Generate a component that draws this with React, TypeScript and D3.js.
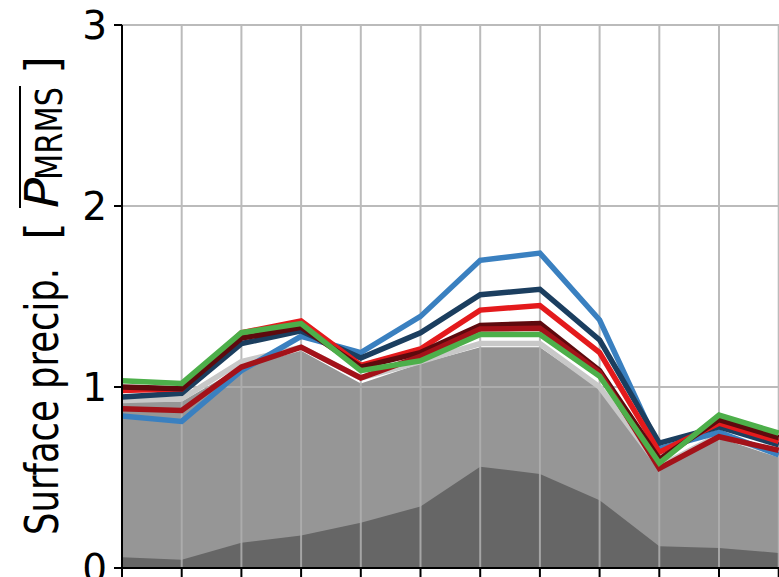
import React from "react";
import * as d3 from "d3";

const W = 779;
const H = 577;

const xIndex = [0, 1, 2, 3, 4, 5, 6, 7, 8, 9, 10, 11];
const yTicks = [0, 1, 2, 3];

const darkArea = [0.06, 0.045, 0.14, 0.18, 0.25, 0.34, 0.56, 0.52, 0.375, 0.12, 0.11, 0.083];
const midArea = [0.92, 0.92, 1.11, 1.2, 1.02, 1.13, 1.22, 1.22, 0.99, 0.54, 0.72, 0.61];

const lightGray = [0.925, 0.935, 1.14, 1.22, 1.05, 1.14, 1.24, 1.24, 1.0, 0.56, 0.735, 0.63];
const blue = [0.84, 0.81, 1.09, 1.28, 1.19, 1.39, 1.7, 1.74, 1.37, 0.66, 0.75, 0.625];
const navy = [0.945, 0.965, 1.24, 1.31, 1.16, 1.3, 1.51, 1.54, 1.26, 0.69, 0.78, 0.68];
const red = [0.98, 0.99, 1.3, 1.365, 1.12, 1.21, 1.425, 1.45, 1.19, 0.64, 0.8, 0.7];
const darkRed = [0.88, 0.87, 1.11, 1.22, 1.05, 1.17, 1.32, 1.325, 1.08, 0.55, 0.725, 0.65];
const maroon = [1.0, 0.99, 1.27, 1.33, 1.11, 1.19, 1.34, 1.35, 1.09, 0.6, 0.82, 0.72];
const green = [1.035, 1.02, 1.3, 1.35, 1.09, 1.145, 1.29, 1.29, 1.06, 0.58, 0.845, 0.745];

const seriesOrder = [
  { name: "lightgray", values: lightGray, color: "#c8c8c8" },
  { name: "blue", values: blue, color: "#3a80c0" },
  { name: "navy", values: navy, color: "#1b3e5f" },
  { name: "red", values: red, color: "#e41a1c" },
  { name: "maroon", values: maroon, color: "#5e0a0e" },
  { name: "darkred", values: darkRed, color: "#a31219" },
  { name: "green", values: green, color: "#4daf4a" },
];

export default function App() {
  const x = d3.scaleLinear().domain([0, 11]).range([122, 778.7]);
  const y = d3.scaleLinear().domain([0, 3]).range([568, 25]);

  const area = (vals: number[]) =>
    d3
      .area<number>()
      .x((_, i) => x(xIndex[i]))
      .y0(y(0))
      .y1((d) => y(d))(vals) || "";
  const line = (vals: number[]) =>
    d3
      .line<number>()
      .x((_, i) => x(xIndex[i]))
      .y((d) => y(d))(vals) || "";

  const font = "'DejaVu Sans', sans-serif";

  return (
    <div style={{ position: "absolute", left: 0, top: 0 }}>
      <svg width={W} height={H} style={{ display: "block" }}>
        <rect x={0} y={0} width={W} height={H} fill="#ffffff" />
        <path d={area(midArea)} fill="#969696" />
        <path d={area(darkArea)} fill="#666666" />
        {/* grid */}
        <g stroke="#b0b0b0" strokeWidth={2} opacity={0.85}>
          {xIndex.map((i) => (
            <line key={"gx" + i} x1={x(i)} x2={x(i)} y1={y(0)} y2={y(3)} />
          ))}
          {yTicks.slice(1).map((t) => (
            <line key={"gy" + t} x1={x(0)} x2={W} y1={y(t)} y2={y(t)} />
          ))}
        </g>
        {seriesOrder.map((s) => (
          <path
            key={s.name}
            d={line(s.values)}
            fill="none"
            stroke={s.color}
            strokeWidth={5.5}
            strokeLinejoin="miter"
          />
        ))}
        {/* axes */}
        <line x1={x(0)} x2={x(0)} y1={y(3)} y2={y(0) + 1} stroke="#000" strokeWidth={2} />
        <line x1={x(0) - 1} x2={W} y1={y(0)} y2={y(0)} stroke="#000" strokeWidth={2} />
        {yTicks.map((t) => (
          <g key={"yt" + t}>
            <line x1={x(0) - 8} x2={x(0)} y1={y(t)} y2={y(t)} stroke="#000" strokeWidth={2} />
            <text
              x={107}
              y={y(t) + 14}
              textAnchor="end"
              fontFamily={font}
              fontSize={39}
              fill="#000"
            >
              {t}
            </text>
          </g>
        ))}
        {xIndex.map((i) => (
          <line key={"xt" + i} x1={x(i)} x2={x(i)} y1={y(0)} y2={y(0) + 10} stroke="#000" strokeWidth={2} />
        ))}
        {/* y label */}
        <g transform="translate(58,568) rotate(-90)" fontFamily={font} fill="#000">
          <text x={33} y={0} fontSize={46} textLength={267} lengthAdjust="spacingAndGlyphs">
            Surface precip.
          </text>
          <text x={328} y={0} fontSize={46}>[</text>
          <text x={360} y={0} fontSize={46} fontStyle="italic" textLength={30} lengthAdjust="spacingAndGlyphs">P</text>
          <text x={388} y={4} fontSize={38} textLength={93} lengthAdjust="spacingAndGlyphs">MRMS</text>
          <line x1={360} x2={482} y1={-38} y2={-38} stroke="#000" strokeWidth={2} />
          <text x={494} y={0} fontSize={46}>]</text>
        </g>
      </svg>
    </div>
  );
}
